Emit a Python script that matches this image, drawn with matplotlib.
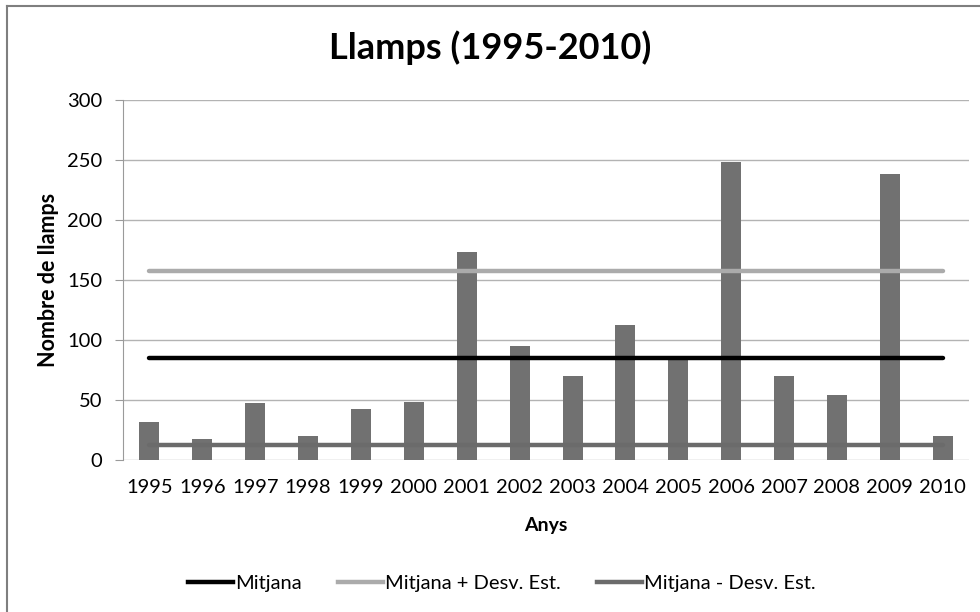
import numpy as np
import matplotlib.pyplot as plt
from matplotlib.lines import Line2D

years = ['1995', '1996', '1997', '1998', '1999', '2000', '2001', '2002',
         '2003', '2004', '2005', '2006', '2007', '2008', '2009', '2010']
llamps = [31, 17, 47, 20, 42, 48, 173, 95, 70, 112, 84, 248, 70, 54, 238, 20]
mitjana = 84.5
mitjana_mes = 157.5
mitjana_menys = 12

plt.rcParams['font.family'] = ['Lato', 'DejaVu Sans']

fig = plt.figure(figsize=(9.8, 6.12), dpi=100)
ax = fig.add_axes([0.1255, 0.2489, 0.8635, 0.5885])

x = np.arange(len(years))
ax.bar(x, llamps, width=0.38, color='#717171', zorder=2)
ax.plot([x[0], x[-1]], [mitjana] * 2, color='black', lw=3.2, zorder=3,
        solid_capstyle='round', label='Mitjana')
ax.plot([x[0], x[-1]], [mitjana_mes] * 2, color='#ababab', lw=3.2, zorder=3,
        solid_capstyle='round', label='Mitjana + Desv. Est.')
ax.plot([x[0], x[-1]], [mitjana_menys] * 2, color='#6b6b6b', lw=3.2, zorder=3,
        solid_capstyle='round', label='Mitjana - Desv. Est.')

ax.set_xlim(-0.5, len(years) - 0.5)
ax.set_ylim(0, 300)
ax.set_yticks(range(0, 301, 50))
ax.set_xticks(x)
ax.set_xticklabels(years)
ax.yaxis.grid(True, color='#b3b3b3', lw=1)
ax.set_axisbelow(True)
for s in ['top', 'right', 'bottom']:
    ax.spines[s].set_visible(False)
ax.spines['left'].set_color('#9a9a9a')
ax.tick_params(axis='y', length=6, color='#9a9a9a', labelsize=14.5, pad=9)
ax.tick_params(axis='x', length=0, labelsize=14.5, pad=14)

ax.set_xlabel('Anys', fontsize=14, fontweight='bold')
ax.xaxis.set_label_coords(0.5, -0.16)
ax.xaxis.label.set_va('top')
ax.set_ylabel('Nombre de llamps', fontsize=15.5, fontweight='bold')
ax.yaxis.set_label_coords(-0.0757, 0.5)
fig.text(0.5, 0.922, 'Llamps (1995-2010)', ha='center', va='center',
         fontsize=26, fontweight='bold')

handles = [Line2D([], [], color='black', lw=3.2),
           Line2D([], [], color='#ababab', lw=3.2),
           Line2D([], [], color='#6b6b6b', lw=3.2)]
fig.legend(handles, ['Mitjana', 'Mitjana + Desv. Est.', 'Mitjana - Desv. Est.'],
           loc='center', bbox_to_anchor=(0.512, 0.047), ncol=3, frameon=False,
           fontsize=14.5, handlelength=2.25, handletextpad=0.1, columnspacing=1.8)

# chart border
fig.add_artist(Line2D([7 / 980, 7 / 980], [0, 1 - 6 / 612], color='#7f7f7f', lw=1.5))
fig.add_artist(Line2D([7 / 980, 1], [1 - 6 / 612, 1 - 6 / 612], color='#7f7f7f', lw=1.5))

fig.savefig('out.png', dpi=100)
